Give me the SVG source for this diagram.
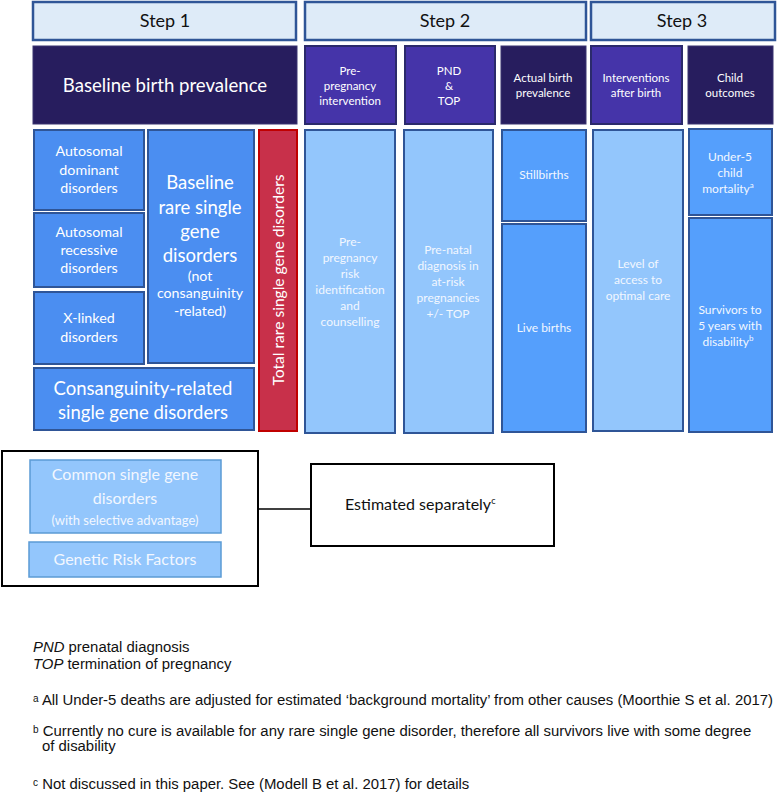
<svg xmlns="http://www.w3.org/2000/svg" width="777" height="800" viewBox="0 0 777 800">
<style>
.t{font-family:Lato,"Open Sans",sans-serif;text-anchor:middle;fill:#ffffff}
.step{fill:#deebf8;stroke:#2f5597;stroke-width:2.5}
.navy{fill:#271d5e;stroke:#3a3470;stroke-width:1}
.purple{fill:#4534a9;stroke:#2b2a6b;stroke-width:2}
.med{fill:#4b8ef1;stroke:#2f5597;stroke-width:2}
.mid{fill:#559ffc;stroke:#2f5597;stroke-width:2}
.light{fill:#93c6fc;stroke:#2f5597;stroke-width:2}
.red{fill:#c8304a;stroke:#c00000;stroke-width:2}
.pale{fill:#93c6fc;stroke:#5b9bd5;stroke-width:1.5}
.frame{fill:#ffffff;stroke:#000000;stroke-width:2}
.fn{font-family:"Liberation Sans",Arial,sans-serif;font-size:14.9px;fill:#111111}
</style>
<rect width="777" height="800" fill="#ffffff"/>

<g id="step1"><rect class="step" x="33" y="2" width="263" height="38"/><text class="t" x="165" y="27" font-size="18" style="fill:#111">Step 1</text></g>
<g id="step2"><rect class="step" x="305" y="2" width="281" height="38"/><text class="t" x="445" y="27" font-size="18" style="fill:#111">Step 2</text></g>
<g id="step3"><rect class="step" x="591" y="2" width="184" height="38"/><text class="t" x="682" y="27" font-size="18" style="fill:#111">Step 3</text></g>

<g id="baseline-birth-prevalence"><rect class="navy" x="33" y="46" width="264" height="78"/><text class="t" x="165" y="92" font-size="18.6">Baseline birth prevalence</text></g>
<g id="pre-pregnancy-intervention"><rect class="purple" x="305" y="46" width="91" height="78"/><text class="t" font-size="11.5"><tspan x="350" y="75">Pre-</tspan><tspan x="350" y="90">pregnancy</tspan><tspan x="350" y="105">intervention</tspan></text></g>
<g id="pnd-top"><rect class="purple" x="405" y="46" width="90" height="78"/><text class="t" font-size="11.5"><tspan x="449" y="75">PND</tspan><tspan x="449" y="90">&amp;</tspan><tspan x="449" y="105">TOP</tspan></text></g>
<g id="actual-birth-prevalence"><rect class="navy" x="501" y="46" width="85" height="78"/><text class="t" font-size="11.5"><tspan x="543" y="82">Actual  birth</tspan><tspan x="543" y="97">prevalence</tspan></text></g>
<g id="interventions-after-birth"><rect class="purple" x="591" y="46" width="91" height="78"/><text class="t" font-size="11.5"><tspan x="636" y="82">Interventions</tspan><tspan x="636" y="97">after birth</tspan></text></g>
<g id="child-outcomes"><rect class="navy" x="688" y="46" width="85" height="78"/><text class="t" font-size="11.5"><tspan x="730" y="82">Child</tspan><tspan x="730" y="97">outcomes</tspan></text></g>

<g id="autosomal-dominant"><rect class="med" x="34" y="130" width="110" height="80"/><text class="t" font-size="14.3"><tspan x="89" y="156">Autosomal</tspan><tspan x="89" y="175">dominant</tspan><tspan x="89" y="193">disorders</tspan></text></g>
<g id="autosomal-recessive"><rect class="med" x="34" y="213" width="110" height="74"/><text class="t" font-size="14.3"><tspan x="89" y="237">Autosomal</tspan><tspan x="89" y="255">recessive</tspan><tspan x="89" y="273">disorders</tspan></text></g>
<g id="x-linked"><rect class="med" x="34" y="292" width="110" height="72"/><text class="t" font-size="14.3"><tspan x="89" y="323">X-linked</tspan><tspan x="89" y="342">disorders</tspan></text></g>
<g id="baseline-rare"><rect class="med" x="148" y="130" width="106" height="233"/><text class="t" font-size="18.5"><tspan x="200" y="189">Baseline</tspan><tspan x="200" y="214">rare single</tspan><tspan x="200" y="238">gene</tspan><tspan x="200" y="262">disorders</tspan></text><text class="t" font-size="14.2"><tspan x="200" y="281">(not</tspan><tspan x="200" y="298">consanguinity</tspan><tspan x="200" y="316">-related)</tspan></text></g>
<g id="consanguinity"><rect class="med" x="34" y="368" width="220" height="62"/><text class="t" font-size="18.5"><tspan x="143" y="395">Consanguinity-related</tspan><tspan x="143" y="419">single gene disorders</tspan></text></g>
<g id="total-rare"><rect class="red" x="259" y="130" width="38" height="301"/><text class="t" font-size="15.6" transform="translate(283.5,280) rotate(-90)" x="0" y="0">Total rare single gene disorders</text></g>

<g id="pre-pregnancy-risk"><rect class="light" x="305" y="130" width="90" height="303"/><text class="t" font-size="12" style="fill:#f2f7ff"><tspan x="350" y="246">Pre-</tspan><tspan x="350" y="262">pregnancy</tspan><tspan x="350" y="278">risk</tspan><tspan x="350" y="294">identification</tspan><tspan x="350" y="310">and</tspan><tspan x="350" y="326">counselling</tspan></text></g>
<g id="pre-natal-diagnosis"><rect class="light" x="404" y="130" width="89" height="303"/><text class="t" font-size="12" style="fill:#f2f7ff"><tspan x="448" y="254">Pre-natal</tspan><tspan x="448" y="270">diagnosis in</tspan><tspan x="448" y="286">at-risk</tspan><tspan x="448" y="302">pregnancies</tspan><tspan x="448" y="318">+/-  TOP</tspan></text></g>
<g id="stillbirths"><rect class="mid" x="502" y="130" width="84" height="91"/><text class="t" x="544" y="179" font-size="12" style="fill:#f2f7ff">Stillbirths</text></g>
<g id="live-births"><rect class="mid" x="502" y="224" width="84" height="208"/><text class="t" x="544" y="332" font-size="12" style="fill:#f2f7ff">Live births</text></g>
<g id="level-of-access"><rect class="light" x="593" y="130" width="90" height="301"/><text class="t" font-size="12" style="fill:#f2f7ff"><tspan x="638" y="268">Level of</tspan><tspan x="638" y="284">access to</tspan><tspan x="638" y="300">optimal  care</tspan></text></g>
<g id="under-5"><rect class="mid" x="689" y="129" width="83" height="86"/><text class="t" font-size="12" style="fill:#f2f7ff"><tspan x="730" y="161">Under-5</tspan><tspan x="730" y="177">child</tspan><tspan x="728" y="193">mortality<tspan font-size="8" dy="-5">a</tspan></tspan></text></g>
<g id="survivors"><rect class="mid" x="689" y="218" width="83" height="214"/><text class="t" font-size="12" style="fill:#f2f7ff"><tspan x="730" y="314">Survivors  to</tspan><tspan x="730" y="330">5 years with</tspan><tspan x="728" y="346">disability<tspan font-size="8" dy="-5">b</tspan></tspan></text></g>

<g id="connectors"><line x1="258" y1="509" x2="311" y2="509" stroke="#000" stroke-width="1.5"/></g>

<g id="separate-group"><rect class="frame" x="2" y="451" width="256" height="135"/></g>
<g id="common-single-gene"><rect class="pale" x="30" y="460" width="191" height="73"/><text class="t" font-size="16" style="fill:#f2f7ff"><tspan x="125" y="480">Common single gene</tspan><tspan x="125" y="504">disorders</tspan></text><text class="t" x="125" y="525" font-size="13" style="fill:#f2f7ff">(with selective advantage)</text></g>
<g id="genetic-risk-factors"><rect class="pale" x="29" y="542" width="192" height="35"/><text class="t" x="125" y="565" font-size="16" style="fill:#f2f7ff">Genetic Risk Factors</text></g>
<g id="estimated-separately"><rect class="frame" x="311" y="464" width="243" height="82"/><text x="345" y="510" font-family="Lato,'Open Sans',sans-serif" font-size="16" fill="#111">Estimated separately<tspan font-size="9" dy="-6">c</tspan></text></g>

<g id="footnotes">
<text class="fn" x="33" y="652"><tspan font-style="italic">PND</tspan>  prenatal diagnosis</text>
<text class="fn" x="33" y="669"><tspan font-style="italic">TOP</tspan>  termination of pregnancy</text>
<text class="fn" x="33" y="705"><tspan font-size="10" dy="-3">a</tspan><tspan dy="3"> All Under-5 deaths are adjusted for estimated ‘background mortality’ from other causes (Moorthie S et al. 2017)</tspan></text>
<text class="fn" x="33" y="736"><tspan font-size="10" dy="-3">b</tspan><tspan dy="3"> Currently no cure is available for any rare single gene disorder, therefore all survivors live with some degree</tspan></text>
<text class="fn" x="42" y="751">of disability</text>
<text class="fn" x="33" y="789"><tspan font-size="10" dy="-3">c</tspan><tspan dy="3"> Not discussed in this paper. See (Modell B et al. 2017) for details</tspan></text>
</g>
</svg>
